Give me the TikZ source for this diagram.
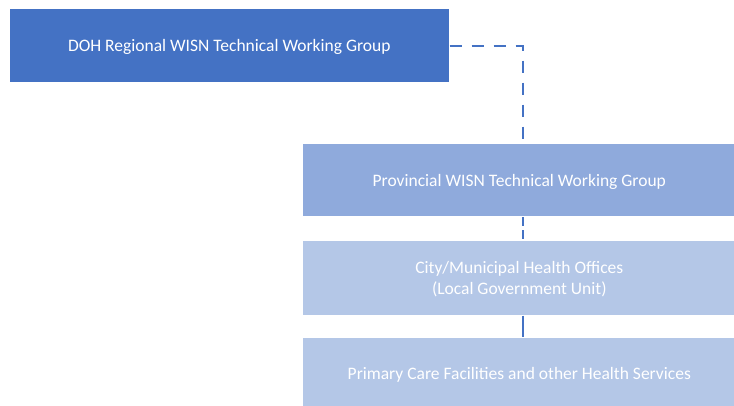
\documentclass[tikz,border=0pt]{standalone}
\usepackage{fontspec}
\setmainfont{Carlito}
\begin{document}
\begin{tikzpicture}[x=1pt,y=-1pt,
  orgbox/.style={draw=white,line width=0.6pt,inner sep=0pt,anchor=north west,
    text=white,font=\fontsize{17.5}{21}\selectfont,align=center,text depth=0pt},
  link/.style={draw=linkblue,line width=2.6pt},
  dashlink/.style={link,dash pattern=on 12pt off 10pt}]
\definecolor{topblue}{HTML}{4472C4}
\definecolor{midblue}{HTML}{8FAADC}
\definecolor{lowblue}{HTML}{B4C7E7}
\definecolor{linkblue}{HTML}{4472C4}
\useasboundingbox (0,0) rectangle (734,406);
\node[orgbox,fill=topblue,minimum width=440pt,minimum height=74pt] (doh) at (9,8)
  {DOH Regional WISN Technical Working Group};
\node[orgbox,fill=midblue,minimum width=434pt,minimum height=73pt] (prov) at (302,143.5)
  {Provincial WISN Technical Working Group};
\node[orgbox,fill=lowblue,minimum width=434pt,minimum height=75pt] (city) at (302,240)
  {City/Municipal Health Offices\\(Local Government Unit)};
\node[orgbox,fill=lowblue,minimum width=434pt,minimum height=72pt] (prim) at (302,337)
  {Primary Care Facilities and other Health Services};
\coordinate (bend) at (523,46);
\draw[dashlink] (doh.east |- bend) -- (bend) -- (bend |- prov.north);
\draw[dashlink,dash pattern=on 9pt off 4pt] (bend |- prov.south) -- (bend |- city.north);
\draw[link] (bend |- city.south) -- (bend |- prim.north);
\end{tikzpicture}
\end{document}
